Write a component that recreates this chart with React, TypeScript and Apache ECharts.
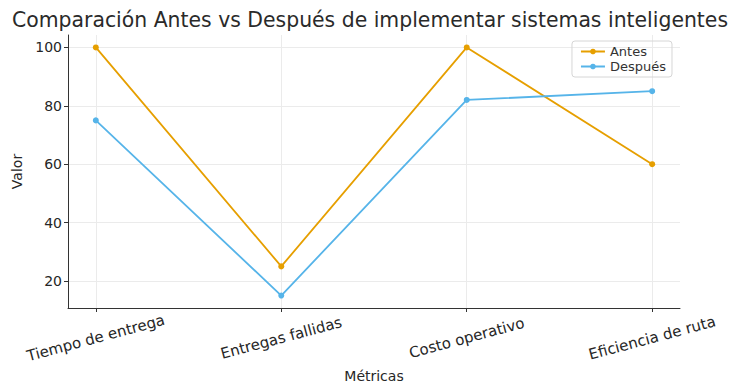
import React, { useEffect, useRef } from "react";
import * as echarts from "echarts";

const categories = ["Tiempo de entrega", "Entregas fallidas", "Costo operativo", "Eficiencia de ruta"];
const antes = [100, 25, 100, 60];
const despues = [75, 15, 82, 85];
const yTicks = [20, 40, 60, 80, 100];
const xTicks = [0, 1, 2, 3];

const FONT = "'DejaVu Sans', sans-serif";

export default function App() {
  const ref = useRef<HTMLDivElement>(null);
  useEffect(() => {
    if (!ref.current) return;
    const chart = echarts.init(ref.current, null, { renderer: "svg" });
    const toPts = (arr: number[]) => arr.map((v, i) => [i, v]);
    chart.setOption({
      animation: false,
      textStyle: { fontFamily: FONT },
      title: {
        text: "Comparación Antes vs Después de implementar sistemas inteligentes",
        left: 12,
        top: 10,
        padding: 0,
        textStyle: { fontFamily: FONT, fontSize: 20.4, fontWeight: "normal", color: "#2a2a2a" },
      },
      legend: {
        orient: "vertical",
        right: 60,
        top: 41,
        padding: [4, 6, 4, 8],
        itemGap: 2,
        itemWidth: 24,
        itemHeight: 7,
        borderColor: "#d6d6d6",
        borderWidth: 1,
        borderRadius: 3,
        textStyle: { fontFamily: FONT, fontSize: 13, color: "#333" },
        data: ["Antes", "Después"],
      },
      grid: { left: 68, right: 52, top: 35, bottom: 75, outerBoundsMode: "none", containLabel: false },
      xAxis: {
        type: "value",
        min: -0.15,
        max: 3.15,
        name: "Métricas",
        nameLocation: "middle",
        nameGap: 59,
        nameTextStyle: { fontFamily: FONT, fontSize: 14, color: "#262626", verticalAlign: "top" },
        axisLine: { show: true, onZero: false, lineStyle: { color: "#333", width: 1 } },
        axisTick: { show: true, length: 4, customValues: xTicks, lineStyle: { color: "#333" } },
        axisLabel: {
          customValues: xTicks,
          formatter: (v: number) => categories[Math.round(v)] ?? "",
          rotate: 15,
          align: "center",
          verticalAlign: "middle",
          margin: 30,
          fontFamily: FONT,
          fontSize: 15,
          color: "#262626",
        },
        splitLine: { show: true, lineStyle: { color: "#ebebeb", width: 1 } },
      },
      yAxis: {
        type: "value",
        min: 10.75,
        max: 104.25,
        name: "Valor",
        nameLocation: "middle",
        nameGap: 38,
        nameTextStyle: { fontFamily: FONT, fontSize: 14, color: "#262626" },
        axisLine: { show: true, onZero: false, lineStyle: { color: "#333", width: 1 } },
        axisTick: { show: true, length: 4, customValues: yTicks, lineStyle: { color: "#333" } },
        axisLabel: {
          customValues: yTicks,
          margin: 6,
          fontFamily: FONT,
          fontSize: 14,
          color: "#262626",
        },
        splitLine: { show: true, lineStyle: { color: "#ebebeb", width: 1 } },
      },
      series: [
        {
          name: "Antes",
          type: "line",
          data: toPts(antes),
          symbol: "circle",
          symbolSize: 6,
          color: "#E69F00",
          lineStyle: { width: 1.8, color: "#E69F00" },
          itemStyle: { color: "#E69F00" },
        },
        {
          name: "Después",
          type: "line",
          data: toPts(despues),
          symbol: "circle",
          symbolSize: 6,
          color: "#56B4E9",
          lineStyle: { width: 1.8, color: "#56B4E9" },
          itemStyle: { color: "#56B4E9" },
        },
      ],
    });
    return () => chart.dispose();
  }, []);
  return <div ref={ref} style={{ width: 732, height: 383, position: "absolute", left: 0, top: 0 }} />;
}
